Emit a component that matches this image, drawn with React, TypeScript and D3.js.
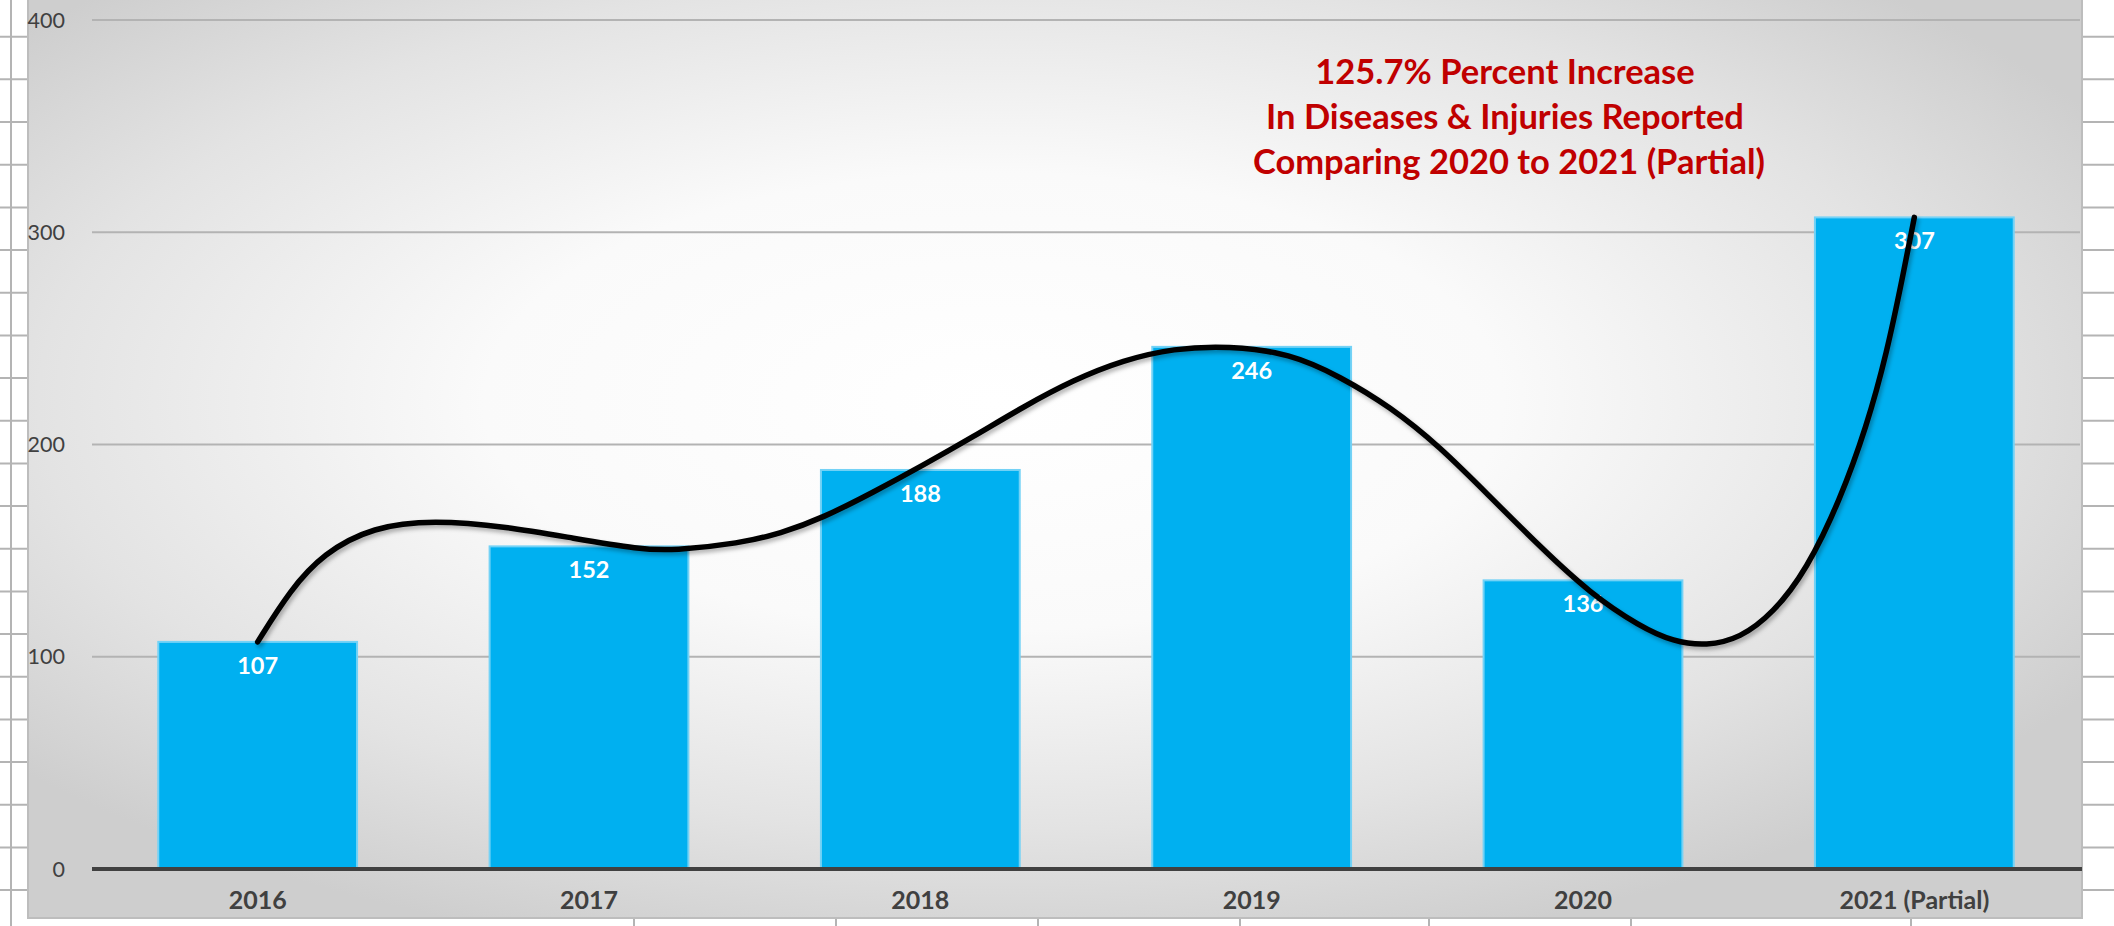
import React from "react";
import * as d3 from "d3";

const categories = ["2016", "2017", "2018", "2019", "2020", "2021 (Partial)"];
const values = [107, 152, 188, 246, 136, 307];
const yTicks = [0, 100, 200, 300, 400];
const titleLines = [
  "125.7% Percent Increase",
  "In Diseases & Injuries Reported",
  "Comparing 2020 to 2021 (Partial)",
];
// hand-drawn smooth trend line (x = category index, y = value)
const trendIndex = [
  0, 0.098, 0.198, 0.349, 0.53, 0.752, 0.953, 1.154, 1.254, 1.456, 1.577, 1.707, 1.858,
  2.009, 2.16, 2.311, 2.462, 2.613, 2.764, 2.93, 3.116, 3.267, 3.418, 3.568, 3.719, 3.87,
  4.021, 4.172, 4.273, 4.373, 4.474, 4.574, 4.675, 4.776, 4.856, 4.917, 4.967, 5.0,
];
const trendValue = [
  107, 131.4, 148.7, 161.3, 164.4, 161.3, 155.8, 150.6, 150.0, 153.5, 158.0, 165.5, 177.5,
  190.3, 203.7, 217.8, 230.4, 239.8, 245.3, 246.5, 243.0, 232.0, 217.8, 199.0, 175.4, 151.9,
  129.9, 114.2, 107.1, 105.1, 108.7, 120.5, 140.9, 173.9, 208.4, 243.0, 280.7, 307,
];

const W = 2114;
const H = 926;
const FONT = "Lato, Carlito, Calibri, 'Open Sans', sans-serif";

export default function App() {
  const left = 92;
  const right = 2080;
  const x = d3.scaleBand<string>().domain(categories).range([left, right]).padding(0);
  const bw = x.bandwidth();
  const barW = bw * 0.6;
  const y = d3.scaleLinear().domain([0, 400]).range([869, 20]);
  const cx = (c: string) => (x(c) as number) + bw / 2;
  const tx = d3
    .scaleLinear()
    .domain([0, categories.length - 1])
    .range([cx(categories[0]), cx(categories[categories.length - 1])]);

  const trendPts: [number, number][] = trendIndex.map((t, i) => [tx(t), y(trendValue[i])]);
  const line = d3.line().curve(d3.curveBasis);
  const trendPath = line(trendPts) || "";

  const sheetRows = d3.range(36.7, H, 42.67);
  const sheetCols = [11, 634, 836, 1038, 1240, 1429, 1631, 1911];

  const panel = { x0: 28, y0: -4, x1: 2082, y1: 918 };

  return (
    <div style={{ position: "absolute", left: 0, top: 0 }}>
      <svg width={W} height={H} style={{ display: "block" }}>
        <defs>
          <radialGradient id="bg" cx="0.47" cy="0.44" r="0.62" fx="0.47" fy="0.44">
            <stop offset="0" stopColor="#ffffff" />
            <stop offset="0.4" stopColor="#fafafa" />
            <stop offset="0.75" stopColor="#e3e3e3" />
            <stop offset="1" stopColor="#cecece" />
          </radialGradient>
          <filter id="shadow" x="-5%" y="-5%" width="110%" height="120%">
            <feDropShadow dx="2" dy="3" stdDeviation="2" floodColor="#000" floodOpacity="0.3" />
          </filter>
        </defs>
        <rect x={0} y={0} width={W} height={H} fill="#ffffff" />
        {sheetRows.map((r, i) => (
          <line key={"r" + i} x1={0} x2={W} y1={r} y2={r} stroke="#b4b4b4" strokeWidth={2} />
        ))}
        {sheetCols.map((c, i) => (
          <line key={"c" + i} x1={c} x2={c} y1={0} y2={H} stroke="#b4b4b4" strokeWidth={2} />
        ))}
        <rect
          x={panel.x0}
          y={panel.y0}
          width={panel.x1 - panel.x0}
          height={panel.y1 - panel.y0}
          fill="url(#bg)"
          stroke="#bdbdbd"
          strokeWidth={2}
        />
        {yTicks.filter((t) => t > 0).map((t) => (
          <line key={"g" + t} x1={left} x2={right} y1={y(t)} y2={y(t)} stroke="#b3b3b3" strokeWidth={2} />
        ))}
        {yTicks.map((t) => (
          <text
            key={"yt" + t}
            x={65}
            y={y(t)}
            dy="0.36em"
            textAnchor="end"
            fontFamily={FONT}
            fontSize={21.5}
            fill="#404040"
          >
            {t}
          </text>
        ))}
        {categories.map((c, i) => (
          <rect
            key={"b" + c}
            x={cx(c) - barW / 2}
            y={y(values[i])}
            width={barW}
            height={y(0) - y(values[i])}
            fill="#00B0F0"
            stroke="#74D2F6"
            strokeWidth={2}
          />
        ))}
        <line x1={left} x2={2082} y1={y(0)} y2={y(0)} stroke="#404040" strokeWidth={4} />
        {categories.map((c) => (
          <text
            key={"xl" + c}
            x={cx(c)}
            y={909}
            textAnchor="middle"
            fontFamily={FONT}
            fontWeight="bold"
            fontSize={25}
            fill="#404040"
          >
            {c}
          </text>
        ))}
        {categories.map((c, i) => (
          <text
            key={"dl" + c}
            x={cx(c)}
            y={y(values[i]) + 32}
            textAnchor="middle"
            fontFamily={FONT}
            fontWeight="bold"
            fontSize={23.5}
            fill="#ffffff"
          >
            {values[i]}
          </text>
        ))}
        <path
          d={trendPath}
          fill="none"
          stroke="#000000"
          strokeWidth={5.5}
          strokeLinecap="round"
          strokeLinejoin="round"
          filter="url(#shadow)"
        />
        {titleLines.map((t, i) => (
          <text
            key={"t" + i}
            x={1505 + (i === 2 ? 4 : 0)}
            y={84 + i * 45}
            textAnchor="middle"
            fontFamily={FONT}
            fontWeight="bold"
            fontSize={34.5}
            fill="#C00000"
          >
            {t}
          </text>
        ))}
      </svg>
    </div>
  );
}
